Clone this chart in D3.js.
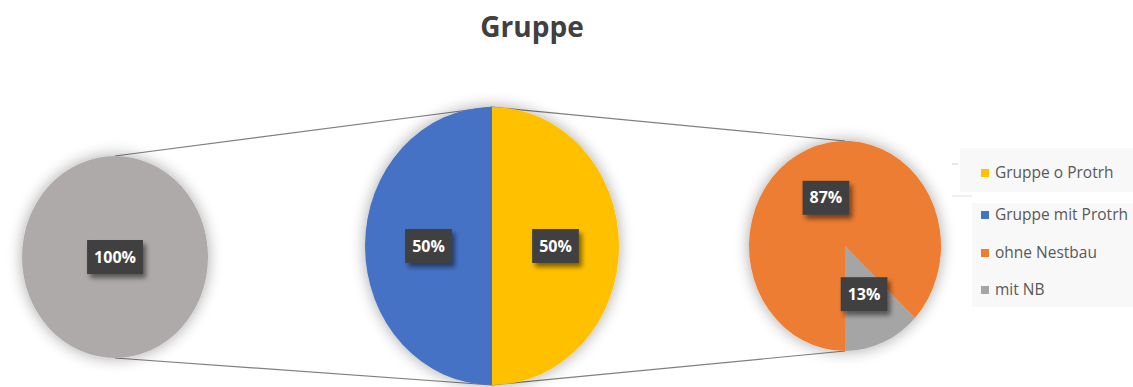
<!DOCTYPE html>
<html>
<head>
<meta charset="utf-8">
<script src="https://cdn.jsdelivr.net/npm/d3@7"></script>
<style>
  html, body { margin: 0; padding: 0; background: #fff; }
  svg { display: block; font-family: "Open Sans", "Noto Sans", sans-serif; }
</style>
</head>
<body>
<svg id="chart" width="1133" height="387"></svg>
<script>
// Overall group, split by "Protrh", then the "mit Protrh" group split by nest building
const totalLabels = ["Gruppe"];
const totalValues = [100];

const groupLabels = ["Gruppe o Protrh", "Gruppe mit Protrh"];
const groupValues = [50, 50];

const nestLabels = ["ohne Nestbau", "mit NB"];
const nestValues = [87, 13];

const legendLabels = ["Gruppe o Protrh", "Gruppe mit Protrh", "ohne Nestbau", "mit NB"];
const legendColors = ["#FFC000", "#4472C4", "#ED7D31", "#A5A5A5"];

const svg = d3.select("#chart");
const defs = svg.append("defs");

const shadow = defs.append("filter").attr("id", "pieShadow")
  .attr("x", "-30%").attr("y", "-30%").attr("width", "160%").attr("height", "160%");
shadow.append("feGaussianBlur").attr("in", "SourceAlpha").attr("stdDeviation", 8).attr("result", "b");
shadow.append("feOffset").attr("in", "b").attr("dx", 0).attr("dy", 0).attr("result", "o");
shadow.append("feComponentTransfer").attr("in", "o").attr("result", "s")
  .append("feFuncA").attr("type", "linear").attr("slope", 0.35);
const m1 = shadow.append("feMerge");
m1.append("feMergeNode").attr("in", "s");
m1.append("feMergeNode").attr("in", "SourceGraphic");

const lblShadow = defs.append("filter").attr("id", "lblShadow")
  .attr("x", "-30%").attr("y", "-30%").attr("width", "170%").attr("height", "180%");
lblShadow.append("feGaussianBlur").attr("in", "SourceAlpha").attr("stdDeviation", 2.5).attr("result", "b");
lblShadow.append("feOffset").attr("in", "b").attr("dx", 3).attr("dy", 4).attr("result", "o");
lblShadow.append("feComponentTransfer").attr("in", "o").attr("result", "s")
  .append("feFuncA").attr("type", "linear").attr("slope", 0.5);
const m2 = lblShadow.append("feMerge");
m2.append("feMergeNode").attr("in", "s");
m2.append("feMergeNode").attr("in", "SourceGraphic");

// Title
svg.append("text")
  .attr("x", 532).attr("y", 37)
  .attr("text-anchor", "middle")
  .attr("font-size", 28).attr("font-weight", 700)
  .attr("fill", "#404040")
  .text("Gruppe");

// Pie geometry (slightly elliptical)
const pies = [
  { cx: 115, cy: 257, rx: 93, ry: 101, labels: totalLabels, values: totalValues,
    colors: ["#AEAAAA"], start: 0 },
  { cx: 492, cy: 246, rx: 127, ry: 139, labels: groupLabels, values: groupValues,
    colors: ["#FFC000", "#4472C4"], start: 0 },
  { cx: 845, cy: 246, rx: 96, ry: 105, labels: nestLabels, values: nestValues,
    colors: ["#ED7D31", "#A5A5A5"], start: Math.PI }
];

// Connector lines between pies
const conn = svg.append("g").attr("stroke", "#7f7f7f").attr("stroke-width", 1.2).attr("fill", "none");
function link(a, b) {
  conn.append("line").attr("x1", a.cx).attr("y1", a.cy - a.ry).attr("x2", b.cx).attr("y2", b.cy - b.ry);
  conn.append("line").attr("x1", a.cx).attr("y1", a.cy + a.ry).attr("x2", b.cx).attr("y2", b.cy + b.ry);
}
link(pies[0], pies[1]);
link(pies[1], pies[2]);

pies.forEach(p => {
  const pie = d3.pie().sort(null).value(d => d)
    .startAngle(p.start).endAngle(p.start + 2 * Math.PI);
  const arcs = pie(p.values);
  const arc = d3.arc().innerRadius(0).outerRadius(p.ry);
  const g = svg.append("g")
    .attr("transform", `translate(${p.cx},${p.cy}) scale(${p.rx / p.ry},1)`)
    .attr("filter", "url(#pieShadow)");
  g.selectAll("path").data(arcs).join("path")
    .attr("d", arc)
    .attr("fill", (d, i) => p.colors[i]);

  const total = d3.sum(p.values);
  arcs.forEach((d, i) => {
    let lx = 0, ly = 0;
    if (p.values.length > 1) {
      const mid = (d.startAngle + d.endAngle) / 2;
      lx = Math.sin(mid) * p.rx * 0.5;
      ly = -Math.cos(mid) * p.ry * 0.5;
    }
    const txt = Math.round(d.value / total * 100) + "%";
    const h = 34;
    const lg = svg.append("g").attr("transform", `translate(${p.cx + lx},${p.cy + ly})`);
    const r = lg.append("rect").attr("fill", "#404040").attr("filter", "url(#lblShadow)");
    const t = lg.append("text")
      .attr("text-anchor", "middle").attr("dy", "0.35em")
      .attr("font-size", 16).attr("font-weight", 700).attr("fill", "#fff")
      .text(txt);
    const w = t.node().getComputedTextLength() + 14;
    r.attr("x", -w / 2).attr("y", -h / 2).attr("width", w).attr("height", h);
  });
});

// Legend
const legend = svg.append("g");
legend.append("rect").attr("x", 960).attr("y", 148).attr("width", 173).attr("height", 44).attr("fill", "#f8f8f8");
legend.append("rect").attr("x", 972).attr("y", 203).attr("width", 161).attr("height", 104).attr("fill", "#f8f8f8");
legend.append("line").attr("x1", 952).attr("x2", 958).attr("y1", 164).attr("y2", 164).attr("stroke", "#d0d0d0");
legend.append("line").attr("x1", 952).attr("x2", 972).attr("y1", 196).attr("y2", 196).attr("stroke", "#e0e0e0");

const legendY = [173, 215, 253, 290];
legendLabels.forEach((lab, i) => {
  legend.append("rect")
    .attr("x", 981).attr("y", legendY[i] - 4).attr("width", 8).attr("height", 8)
    .attr("fill", legendColors[i]);
  legend.append("text")
    .attr("x", 995).attr("y", legendY[i]).attr("dy", "0.35em")
    .attr("font-size", 15.5).attr("fill", "#595959")
    .text(lab);
});
</script>
</body>
</html>
